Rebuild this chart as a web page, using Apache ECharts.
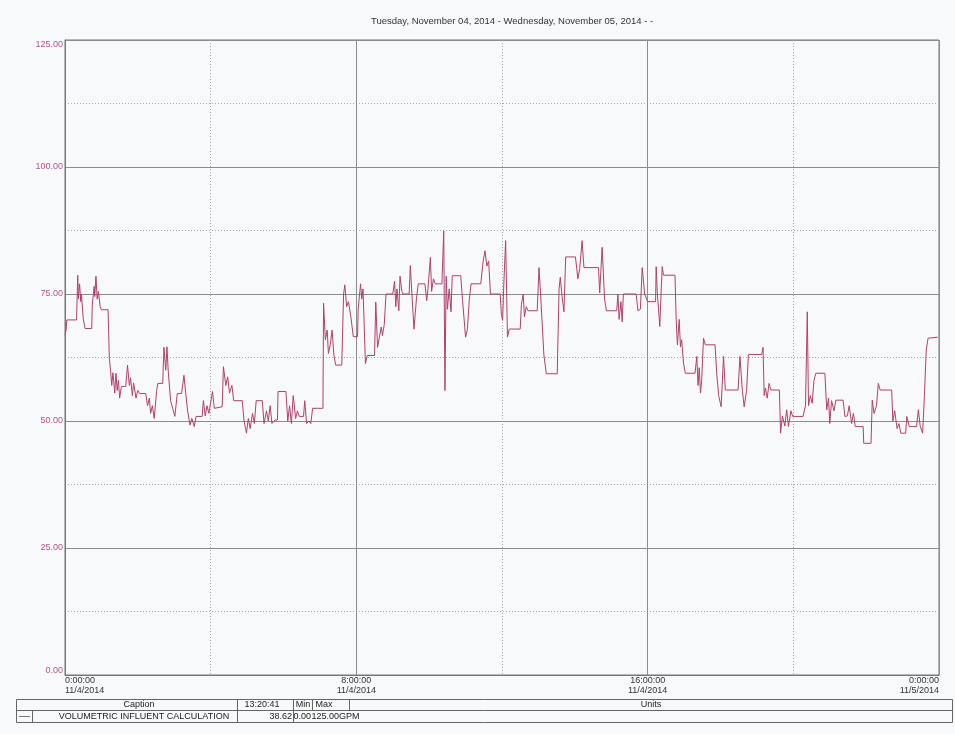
<!DOCTYPE html>
<html>
<head>
<meta charset="utf-8">
<title>Volumetric Influent Calculation</title>
<script src="https://cdn.jsdelivr.net/npm/echarts@6/dist/echarts.min.js"></script>
<style>
  html, body { margin: 0; padding: 0; background: #f8f9fb; }
  #chart { width: 955px; height: 734px; }
</style>
</head>
<body>
<div id="chart"></div>
<script>
// Trend samples: minutes after 0:00 on 11/4/2014, and flow in GPM
const minutes = [
  0, 2, 3, 19, 21, 22, 24, 26, 27, 30, 33, 44, 45, 48, 49, 51, 53, 55, 58, 60, 71, 73, 75, 77, 79, 82, 84, 86, 88, 90,
  93, 100, 103, 106, 108, 111, 113, 117, 120, 123, 133, 136, 139, 141, 144, 147, 151, 153, 161, 163, 166, 168, 170, 174, 178, 181, 185, 192, 196, 198,
  202, 206, 209, 213, 216, 226, 228, 231, 234, 237, 240, 243, 246, 248, 259, 261, 265, 268, 271, 275, 278, 292, 295, 299, 302, 305, 309, 312, 315, 325,
  328, 332, 335, 338, 341, 346, 350, 351, 364, 367, 370, 373, 376, 380, 383, 386, 393, 395, 398, 402, 405, 408, 425, 426, 429, 432, 434, 437, 440, 443,
  446, 456, 459, 461, 464, 467, 471, 475, 482,
  483, 487, 489, 491, 495, 498, 510, 512, 515, 518, 521, 523, 526, 529, 540, 543, 545, 547, 550, 552, 555, 557, 567, 569, 572, 575, 579, 582, 593, 596,
  598, 602, 604, 607, 610, 621, 624, 626, 628, 630, 633, 636, 638, 652, 655, 660, 663, 666, 669, 685, 689, 692, 695, 698, 701, 717, 719, 721, 723, 726,
  729, 732, 750, 752, 755, 757, 760, 763, 778, 781, 784, 789, 793, 811, 814, 816, 819, 822, 825, 841, 845, 848, 852, 855, 879, 881, 885, 889, 892, 909,
  911, 913, 916, 918, 920, 941, 944, 948, 951, 955,
  960, 973, 974, 976, 980, 982, 984, 986, 1005, 1007, 1009, 1012, 1014, 1016, 1019, 1022, 1038, 1041, 1043, 1045, 1047, 1049, 1052, 1055, 1071, 1074, 1077, 1081, 1085, 1088,
  1109, 1112, 1116, 1119, 1123, 1126, 1148, 1150, 1152, 1154, 1157, 1160, 1163, 1177, 1179, 1182, 1186, 1189, 1192, 1196, 1199, 1216, 1220, 1223, 1225, 1228, 1231, 1234, 1237, 1252,
  1255, 1258, 1260, 1263, 1267, 1270, 1282, 1285, 1289, 1292, 1296, 1299, 1302, 1315, 1316, 1328, 1330, 1333, 1337, 1340, 1343, 1362, 1364, 1367, 1371, 1374, 1377, 1385, 1387, 1391,
  1403, 1406, 1409, 1413, 1416, 1419, 1422, 1425, 1438
];
const flowGpm = [
  66.9, 68, 69.9, 69.9, 78.7, 74, 77, 73.5, 75, 70.2, 68.2, 68.2, 73, 76.5, 74.5, 78.5, 74, 75.5, 72.5, 71.9, 71.9, 62.5, 60, 57, 59.5, 55.5, 59.4, 56, 58, 54.5,
  56.8, 56.8, 61, 57, 58.5, 55, 57.5, 54.5, 56, 55.4, 55.4, 53, 54.5, 51.5, 53, 50.5, 56, 57.4, 57.4, 64.5, 60, 64.6, 60, 54, 52.2, 50.9, 55.4, 55.4, 59, 56.5,
  52, 49.2, 50.5, 48.9, 50.9, 50.9, 54, 51, 53, 51.5, 51.5, 55.8, 52.5, 52.8, 52.8, 60.7, 57, 58.7, 55.5, 57, 54, 54, 50, 47.6, 50.5, 48.5, 51.5, 49.5, 54, 54,
  49.5, 52, 50, 53, 49.5, 50.2, 50.2, 55.8, 55.8, 50, 53, 49.5, 55, 50.5, 52, 50.9, 50.9, 54, 49.5, 50, 49.5, 52.5, 52.5, 73.2, 66, 67.9, 63.3, 65, 67.9, 63,
  61, 61, 75, 76.8, 72.5, 73.5, 70.5, 66.6, 66.6,
  72, 77, 74, 76, 61.3, 62.9, 62.9, 73.4, 64.5, 66.5, 68.5, 66.8, 69, 75, 75, 77.5, 72.5, 76, 71.7, 78.5, 75.5, 75, 75, 80.6, 74, 68.1, 74, 77, 77, 73.7,
  76, 82.2, 75.5, 78, 77, 77, 87.4, 56, 78.5, 72, 76, 71.5, 78.6, 78.6, 73.7, 66.5, 68, 73.7, 77, 77, 81.5, 83.5, 80.5, 81.5, 75, 75, 71, 69.8, 77, 85.5,
  66.5, 68.1, 68.1, 73, 75, 70.5, 72.5, 71.7, 71.7, 80.2, 74, 63, 59.3, 59.3, 76, 78.3, 74.5, 71.5, 82.3, 82.3, 78, 80, 85.5, 80.2, 80.2, 75.2, 84.2, 74, 71.7, 71.7,
  75, 70, 73.5, 69.5, 75, 75, 71.7, 72, 80.2, 75,
  73.5, 73.5, 80.4, 75, 68.6, 75, 80.4, 78.7, 78.7, 69.9, 65, 70, 64.6, 66, 61.4, 59.4, 59.4, 62.7, 57, 60.5, 55.5, 58, 66.3, 65, 65, 59, 55, 52.8, 62.7, 56.1,
  56.1, 62.7, 56, 52.8, 56, 63.1, 63.1, 64.5, 55, 56.5, 54.5, 57.4, 56.1, 56.1, 47.6, 51, 49, 52.2, 48.9, 52, 50.9, 50.9, 53, 71.5, 53, 55, 53.5, 58, 59.4, 59.4,
  52.2, 54.5, 49.5, 54, 52, 54.1, 54.1, 50.9, 51, 53, 49.5, 51.5, 48.9, 48.9, 45.6, 45.6, 54.1, 51.5, 53, 57.4, 56.1, 56.1, 50, 52, 48.5, 49.5, 47.6, 47.6, 50.9, 48.9,
  48.9, 52.2, 49, 47.6, 55, 64, 66.3, 66.5, 66.5
];

// Axis tick labels (time and date lines)
const timeTicks = ['0:00:00', '8:00:00', '16:00:00', '0:00:00'];
const dateTicks = ['11/4/2014', '11/4/2014', '11/4/2014', '11/5/2014'];

// Caption table contents
const captionHeader = ['Caption', '13:20:41', 'Min', 'Max', 'Units'];
const seriesName = 'VOLUMETRIC INFLUENT CALCULATION';
const currentValue = '38.62';
const minValue = '0.00';
const maxValue = '125.00';
const unitsText = 'GPM';
const titleText = 'Tuesday, November 04, 2014 - Wednesday, November 05, 2014 - -';

const points = minutes.map((m, i) => [m, flowGpm[i]]);

const FONT = '"Liberation Sans", Arial, sans-serif';
const TEXT_GRAY = '#333';
const BORDER = '#666';

const chart = echarts.init(document.getElementById('chart'), null, { renderer: 'canvas' });

function tableText(x, y, text, align) {
  return {
    type: 'text', x: x, y: y, silent: true,
    style: { text: text, font: '9px ' + FONT, fill: '#222', align: align, verticalAlign: 'middle' }
  };
}
function hLine(x1, x2, y) {
  return { type: 'line', silent: true, shape: { x1: x1, y1: y, x2: x2, y2: y }, style: { stroke: BORDER, lineWidth: 1 } };
}
function vLine(x, y1, y2) {
  return { type: 'line', silent: true, shape: { x1: x, y1: y1, x2: x, y2: y2 }, style: { stroke: BORDER, lineWidth: 1 } };
}

const tableTop = 699.5, tableMid = 710.5, tableBottom = 722.5;
const tableLeft = 16.5, tableRight = 952.5;

option = {
  backgroundColor: '#f8f9fb',
  animation: false,
  title: {
    text: titleText,
    left: 366,
    top: 11,
    textStyle: { fontFamily: FONT, fontSize: 9.5, fontWeight: 'normal', color: '#333' }
  },
  grid: {
    left: 65, right: 16, top: 40, bottom: 59,
    show: true, borderColor: '#777', borderWidth: 1, backgroundColor: 'transparent'
  },
  xAxis: {
    type: 'value',
    min: 0, max: 1440, interval: 480,
    axisLine: { show: true, lineStyle: { color: '#777' } },
    axisTick: { show: false },
    minorTick: { show: false, splitNumber: 2 },
    splitLine: { show: true, lineStyle: { color: '#8c8c8c', width: 1 } },
    minorSplitLine: { show: true, lineStyle: { color: '#a8a8a8', width: 1, type: [1, 2] } },
    axisLabel: {
      margin: 1,
      fontFamily: FONT, fontSize: 9, color: TEXT_GRAY, lineHeight: 9.5,
      alignMinLabel: 'left', alignMaxLabel: 'right',
      formatter: function (v) {
        const i = Math.round(v / 480);
        return timeTicks[i] + '\n' + dateTicks[i];
      }
    }
  },
  yAxis: {
    type: 'value',
    min: 0, max: 125, interval: 25,
    axisLine: { show: true, lineStyle: { color: '#777' } },
    axisTick: { show: false },
    minorTick: { show: false, splitNumber: 2 },
    splitLine: { show: true, lineStyle: { color: '#8c8c8c', width: 1 } },
    minorSplitLine: { show: true, lineStyle: { color: '#a8a8a8', width: 1, type: [1, 2] } },
    axisLabel: {
      margin: 2,
      fontFamily: FONT, fontSize: 9, color: '#b5548c',
      verticalAlignMinLabel: 'bottom', verticalAlignMaxLabel: 'top',
      formatter: function (v) { return v.toFixed(2); }
    }
  },
  series: [{
    name: seriesName,
    type: 'line',
    data: points,
    showSymbol: false,
    symbol: 'none',
    lineStyle: { color: '#b0406e', width: 1 },
    z: 5
  }],
  graphic: [
    // caption table frame
    hLine(tableLeft, tableRight, tableTop),
    hLine(tableLeft, tableRight, tableMid),
    hLine(tableLeft, tableRight, tableBottom),
    vLine(tableLeft, tableTop, tableBottom),
    vLine(tableRight, tableTop, tableBottom),
    vLine(237.5, tableTop, tableBottom),
    vLine(293.5, tableTop, tableBottom),
    vLine(312.5, tableTop, tableMid),
    vLine(349.5, tableTop, tableMid),
    vLine(32.5, tableMid, tableBottom),
    // header row
    tableText(139, 705, captionHeader[0], 'center'),
    tableText(262, 705, captionHeader[1], 'center'),
    tableText(303, 705, captionHeader[2], 'center'),
    tableText(324, 705, captionHeader[3], 'center'),
    tableText(651, 705, captionHeader[4], 'center'),
    // series row
    { type: 'line', silent: true, shape: { x1: 19, y1: 716.5, x2: 30, y2: 716.5 }, style: { stroke: '#777', lineWidth: 1 } },
    tableText(144, 716.5, seriesName, 'center'),
    tableText(292, 716.5, currentValue, 'right'),
    tableText(311, 716.5, minValue, 'right'),
    tableText(339, 716.5, maxValue, 'right'),
    tableText(339, 716.5, unitsText, 'left')
  ]
};

chart.setOption(option);
</script>
</body>
</html>
